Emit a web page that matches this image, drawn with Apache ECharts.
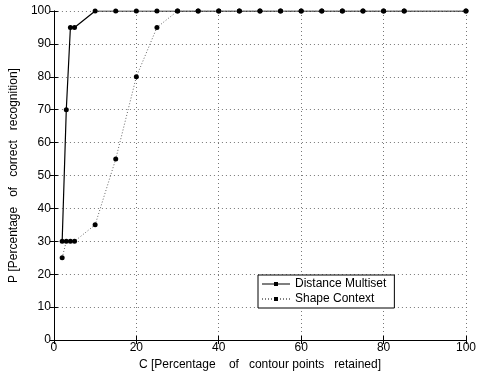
<!DOCTYPE html>
<html><head><meta charset="utf-8">
<script src="https://cdn.jsdelivr.net/npm/echarts@6/dist/echarts.min.js"></script>
<style>html,body{margin:0;padding:0;background:#fff}#c{width:479px;height:376px}</style>
</head><body><div id="c"></div>
<script>
const dmX = [2,3,4,5,10,15,20,25,30,35,40,45,50,55,60,65,70,75,80,85,100];
const dmY = [30,70,95,95,100,100,100,100,100,100,100,100,100,100,100,100,100,100,100,100,100];
const scX = [2,3,4,5,10,15,20,25,30,35,40,45,50,55,60,65,70,75,80,85,100];
const scY = [25,30,30,30,35,55,80,95,100,100,100,100,100,100,100,100,100,100,100,100,100];
const xTicks = [0,20,40,60,80,100];
const yTicks = [0,10,20,30,40,50,60,70,80,90,100];
const seriesNames = ['Distance Multiset','Shape Context'];

const pair = (xs, ys) => xs.map((x,i)=>[x, ys[i]]);
const font = 'Liberation Sans, Arial, sans-serif';
// legend icons (28 x 8): line with small marker in the middle
const solidIcon = 'path://M0,3.4h28v1.2h-28Z M12,2h4v4h-4Z';
let dotted = 'path://M0,0h0.01v0.01h-0.01Z M27.99,7.99h0.01v0.01h-0.01Z';
for (let x = 0; x < 28; x += 3) dotted += ' M' + x + ',3.5h1v1h-1Z';
dotted += ' M12,2h4v4h-4Z';

const chart = echarts.init(document.getElementById('c'));
const gridLine = {show:true, lineStyle:{color:'#777', type:[1,3], width:1}};
chart.setOption({
  animation:false,
  grid:{left:53, right:9, top:11, bottom:36},
  legend:{
    orient:'vertical', left:258, top:275, width:147,
    backgroundColor:'#fff', borderColor:'#000', borderWidth:1, borderRadius:0,
    padding:[3,8,3,4], itemGap:3, itemWidth:28, itemHeight:8,
    textStyle:{fontFamily:font, fontSize:12, color:'#000'},
    data:[{name:seriesNames[0], icon:solidIcon},{name:seriesNames[1], icon:dotted}]
  },
  xAxis:[{
    type:'value', min:0, max:100, interval:20,
    name:'C [Percentage    of   contour points   retained]', nameLocation:'middle', nameGap:16,
    nameTextStyle:{fontFamily:font, fontSize:12, color:'#000'},
    axisLine:{lineStyle:{color:'#000', width:1}},
    axisTick:{inside:true, length:4, lineStyle:{color:'#000'}},
    axisLabel:{fontFamily:font, fontSize:12, color:'#000', margin:2},
    splitLine:gridLine
  },{
    type:'value', min:0, max:100, interval:20, position:'top',
    axisLine:{show:true, lineStyle:{color:'#000', width:1}},
    axisTick:{show:true, inside:true, length:4, lineStyle:{color:'#000'}},
    axisLabel:{show:false}, splitLine:{show:false}
  }],
  yAxis:[{
    type:'value', min:0, max:100, interval:10,
    name:'P [Percentage   of   correct   recognition]', nameLocation:'middle', nameGap:32,
    nameTextStyle:{fontFamily:font, fontSize:12, color:'#000'},
    axisLine:{show:true, lineStyle:{color:'#000', width:1}},
    axisTick:{show:true, inside:true, length:4, lineStyle:{color:'#000'}},
    axisLabel:{fontFamily:font, fontSize:12, color:'#000', margin:3},
    splitLine:gridLine
  },{
    type:'value', min:0, max:100, interval:10, position:'right',
    axisLine:{show:true, lineStyle:{color:'#000', width:1}},
    axisTick:{show:true, inside:true, length:4, lineStyle:{color:'#000'}},
    axisLabel:{show:false}, splitLine:{show:false}
  }],
  series:[{
    name:seriesNames[0], type:'line', data:pair(dmX, dmY),
    symbol:'circle', symbolSize:5, showAllSymbol:true,
    lineStyle:{color:'#000', width:1.2}, itemStyle:{color:'#000'}, z:3
  },{
    name:seriesNames[1], type:'line', data:pair(scX, scY),
    symbol:'circle', symbolSize:5, showAllSymbol:true,
    lineStyle:{color:'#666', width:1, type:[1,2]}, itemStyle:{color:'#000'}, z:2
  }]
});
</script></body></html>
